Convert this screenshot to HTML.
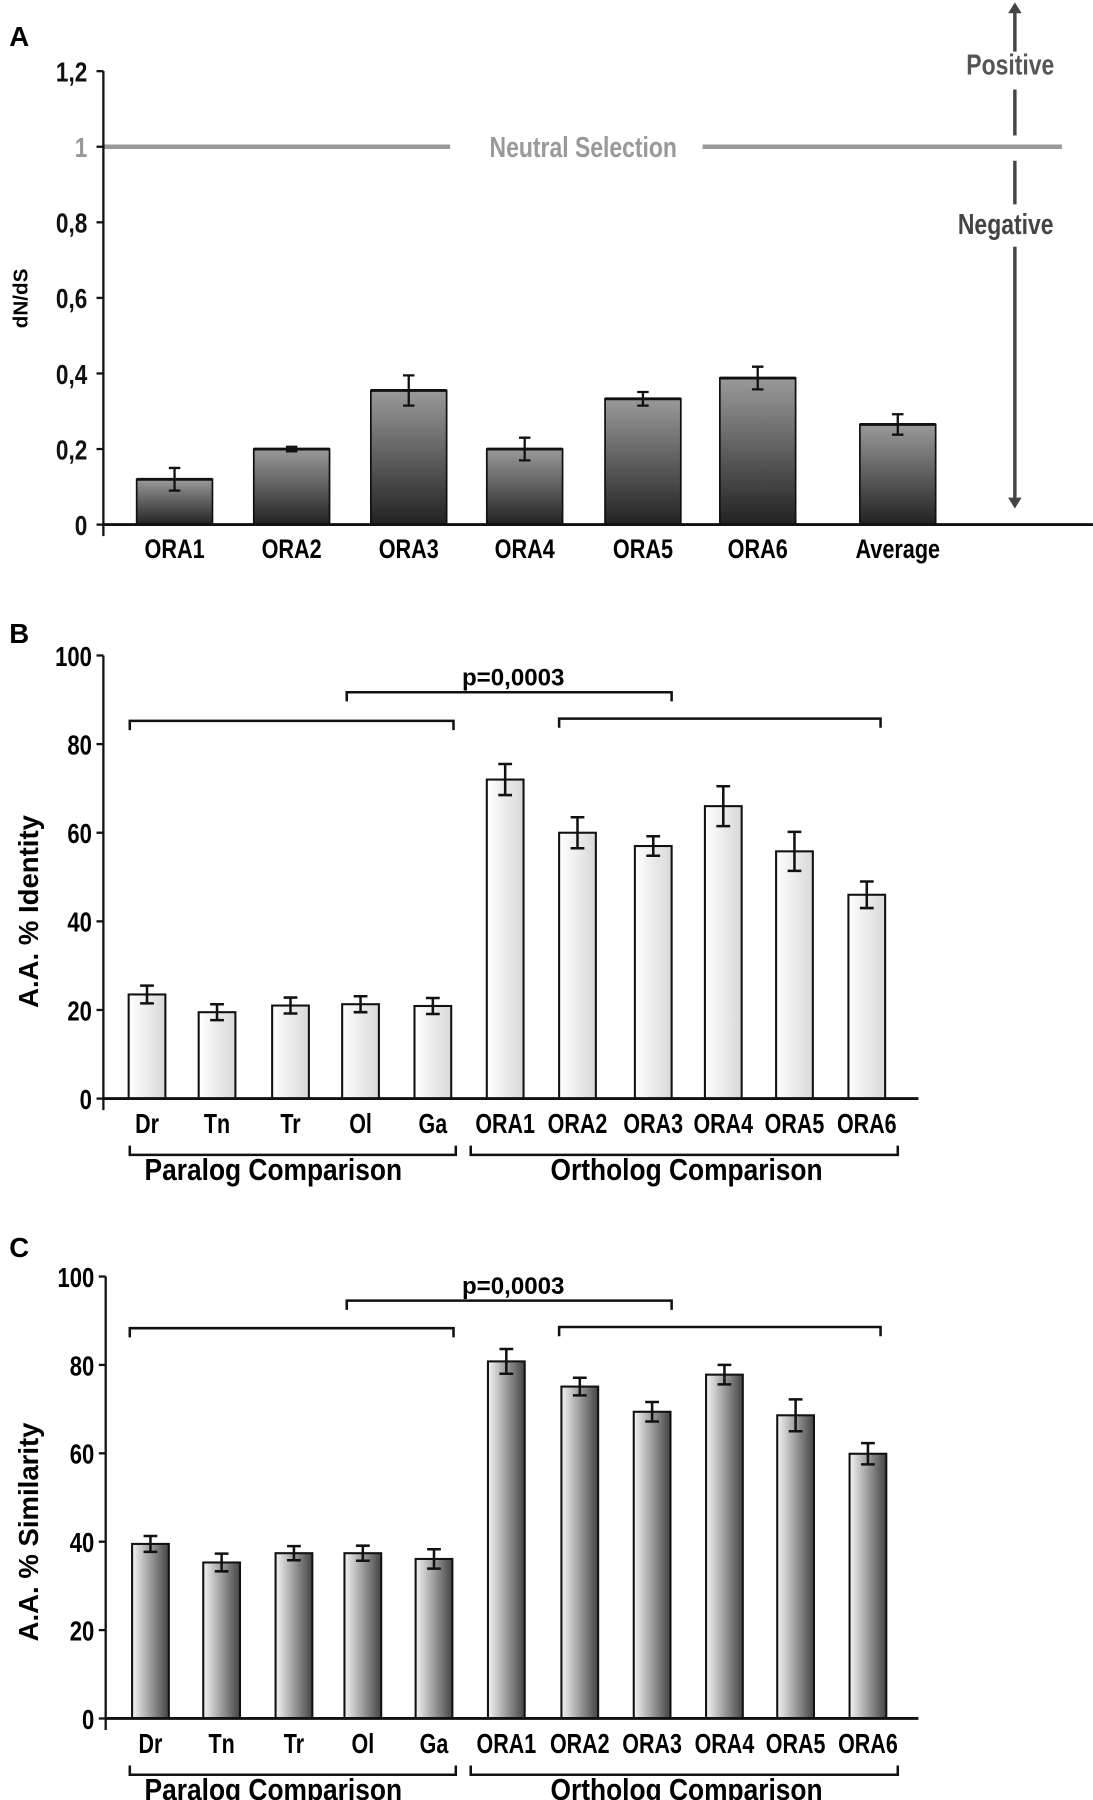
<!DOCTYPE html>
<html><head><meta charset="utf-8"><style>
html,body{margin:0;padding:0;background:#fff}
svg{display:block}
text{font-family:"Liberation Sans",sans-serif;font-weight:bold}
</style></head><body>
<svg id="fig" width="1093" height="1800" viewBox="0 0 952 1568" xmlns="http://www.w3.org/2000/svg">
<defs>
<linearGradient id="gA" x1="0" y1="0" x2="0" y2="1"><stop offset="0" stop-color="#9a9a9a"/><stop offset="1" stop-color="#222"/></linearGradient>
<linearGradient id="gB" x1="0" y1="0" x2="1" y2="0"><stop offset="0" stop-color="#fff"/><stop offset="1" stop-color="#d8d8d8"/></linearGradient>
<linearGradient id="gC" x1="0" y1="0" x2="1" y2="0"><stop offset="0" stop-color="#f4f4f4"/><stop offset="1" stop-color="#444"/></linearGradient>
</defs>
</svg>
<script>
// Panel A data
const catA = ["ORA1","ORA2","ORA3","ORA4","ORA5","ORA6","Average"];
const valA = [0.12,0.2,0.355,0.2,0.333,0.388,0.265];
const errA = [0.03,0.006,0.04,0.03,0.018,0.03,0.027];
const ticksA = [0,0.2,0.4,0.6,0.8,1,1.2];
const tickLabelsA = ["0","0,2","0,4","0,6","0,8","1","1,2"];
// Panel B data
const catB = ["Dr","Tn","Tr","Ol","Ga","ORA1","ORA2","ORA3","ORA4","ORA5","ORA6"];
const valB = [23.5,19.5,21,21.3,20.9,72,60,57,66,55.8,46];
const errB = [2,1.8,1.8,1.8,1.8,3.5,3.5,2.2,4.5,4.4,3];
// Panel C data
const valC = [39.5,35.3,37.4,37.4,36.1,80.8,75.1,69.4,77.8,68.6,59.9];
const errC = [1.8,2,1.6,1.7,2.2,2.8,2,2.2,2.2,3.6,2.4];
const ticksBC = [0,20,40,60,80,100];

const svg = document.getElementById('fig');
const NS = "http://www.w3.org/2000/svg";
function el(tag, attrs, parent){const e=document.createElementNS(NS,tag);for(const k in attrs)e.setAttribute(k,attrs[k]);(parent||svg).appendChild(e);return e;}
function txt(s, attrs, parent, narrow){
  const a=Object.assign({},attrs);
  if(narrow){a.transform=`translate(${a.x},${a.y}) scale(${narrow===true?0.82:narrow},1)`;delete a.x;delete a.y;}
  const t=el('text',a,parent);t.textContent=s;return t;}

// ---------- Panel A ----------
const gA = el('g',{});


const yA = v => 457 - v/1.2*395;
const xA = i => [152,254,356,457,560,660,782][i];
txt("A",{x:8,y:40,'font-size':24},gA);
const nl1 = el('line',{x1:90,y1:yA(1),x2:392,y2:yA(1),stroke:'#999','stroke-width':4},gA);


el('line',{x1:612,y1:yA(1),x2:925,y2:yA(1),stroke:'#999','stroke-width':4},gA);
txt("Neutral Selection",{x:508,y:yA(1)+9,'text-anchor':'middle','font-size':25,fill:'#999'},gA,0.8);
catA.forEach((c,i)=>{
  const x=xA(i), w=66, y=yA(valA[i]);
  const r=el('rect',{x:x-w/2,y:y,width:w,height:yA(0)-y,fill:'url(#gA)',stroke:'#111','stroke-width':1.5},gA);
  
  
  el('line',{x1:x-w/2,y1:y,x2:x+w/2,y2:y,stroke:'#111','stroke-width':2.5},gA);
  const eb=el('path',{d:`M${x-5},${yA(valA[i]+errA[i])}H${x+5}M${x},${yA(valA[i]+errA[i])}V${yA(valA[i]-errA[i])}M${x-5},${yA(valA[i]-errA[i])}H${x+5}`,stroke:'#111','stroke-width':2,fill:'none'},gA);
  
  
  txt(c,{x:x,y:486,'text-anchor':'middle','font-size':23},gA,true);
});
el('line',{x1:90,y1:yA(1.2),x2:90,y2:467,stroke:'#111','stroke-width':2},gA);
el('line',{x1:90,y1:yA(0),x2:952,y2:yA(0),stroke:'#111','stroke-width':2.5},gA);
ticksA.forEach((t,i)=>{
  el('line',{x1:84,y1:yA(t),x2:90,y2:yA(t),stroke:'#111','stroke-width':2},gA);
  const tl=txt(tickLabelsA[i],{x:76,y:yA(t)+9,'text-anchor':'end','font-size':24,fill:t===1?'#999':'#111'},gA,true);
  
});
txt("dN/dS",{transform:'translate(24,260) rotate(-90)','text-anchor':'middle','font-size':18},gA);
const arr = el('path',{d:'M884,5V45M884,78V118M884,140V178M884,215V440',stroke:'#444','stroke-width':3,fill:'none'},gA);


el('path',{d:'M879,11L884,3L889,11Z M879,434L884,442L889,434Z',fill:'#444',stroke:'#444','stroke-width':1},gA);
txt("Positive",{x:880,y:65,'text-anchor':'middle','font-size':25,fill:'#555'},gA,0.8);
txt("Negative",{x:876,y:204,'text-anchor':'middle','font-size':25,fill:'#444'},gA,0.8);

// ---------- Panels B & C ----------
function panel(name, letter, letterY, y0, y100, axisX, vals, errs, fill, title, centers, tb){
  const g=el('g',{});
  
  
  const ys=v=>y0-(v/100)*(y0-y100);
  txt(letter,{x:8,y:letterY,'font-size':24},g);
  catB.forEach((c,i)=>{
    const x=centers[i], w=32, y=ys(vals[i]);
    const r=el('rect',{x:x-w/2,y:y,width:w,height:y0-y,fill:fill,stroke:'#111','stroke-width':1.8},g);
    
    
    const eb=el('path',{d:`M${x-6},${ys(vals[i]+errs[i])}H${x+6}M${x},${ys(vals[i]+errs[i])}V${ys(vals[i]-errs[i])}M${x-6},${ys(vals[i]-errs[i])}H${x+6}`,stroke:'#111','stroke-width':2.2,fill:'none'},g);
    
    
    txt(c,{x:x,y:y0+30,'text-anchor':'middle','font-size':24},g,0.78);
  });
  el('line',{x1:axisX,y1:y100,x2:axisX,y2:y0+10,stroke:'#111','stroke-width':2},g);
  el('line',{x1:axisX,y1:y0,x2:800,y2:y0,stroke:'#111','stroke-width':2.5},g);
  ticksBC.forEach(t=>{
    el('line',{x1:axisX-6,y1:ys(t),x2:axisX,y2:ys(t),stroke:'#111','stroke-width':2},g);
    txt(String(t),{x:axisX-10,y:ys(t)+9,'text-anchor':'end','font-size':24},g,0.8);
  });
  txt(title,{transform:`translate(33,${(y0+y100)/2+30}) rotate(-90)`,'text-anchor':'middle','font-size':24},g);
  const br=(x1,x2,y,down)=>{const d=down?8:-8;const p=el('path',{d:`M${x1},${y+d}V${y}H${x2}V${y+d}`,stroke:'#111','stroke-width':2.2,fill:'none'},g);};
  br(113,395,tb[0],true); br(487,767,tb[1],true); br(302,585,tb[2],true);
  txt("p=0,0003",{x:447,y:tb[2]-6,'text-anchor':'middle','font-size':21},g);
  const by=y0+49;
  br(113,397,by,false); br(410,782,by,false);
  txt("Paralog Comparison",{x:238,y:by+22,'text-anchor':'middle','font-size':27},g,0.85);
  txt("Ortholog Comparison",{x:598,y:by+22,'text-anchor':'middle','font-size':27},g,0.85);
}
panel('panel-b','B',560,957,571,90,valB,errB,'url(#gB)','A.A. % Identity',[128,189,253,314,377,440,503,569,630,692,755],[628,626,603]);
panel('panel-c','C',1095,1497,1112,92,valC,errC,'url(#gC)','A.A. % Similarity',[131,193,256,316,378,441,505,568,631,693,756],[1157,1156,1133]);
</script>
</body></html>
